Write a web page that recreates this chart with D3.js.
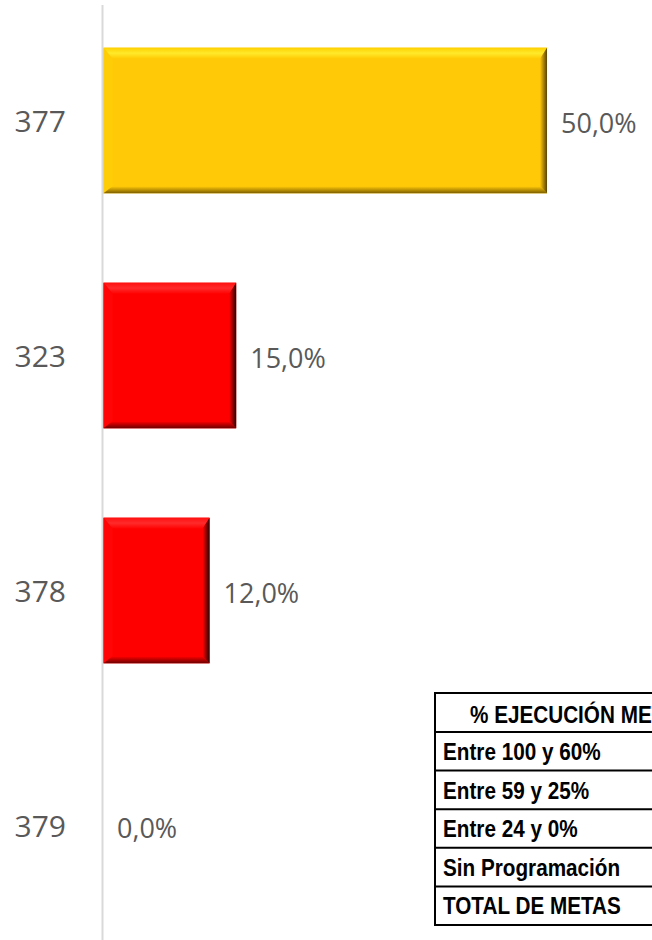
<!DOCTYPE html>
<html>
<head>
<meta charset="utf-8">
<script src="https://cdn.jsdelivr.net/npm/d3@7"></script>
<style>
  html, body { margin: 0; padding: 0; background: #fff; }
  svg { display: block; }
</style>
</head>
<body>
<svg id="chart" width="652" height="940"></svg>
<script>
// ---- data ----
const categories = ["377", "323", "378", "379"];
const values = [0.50, 0.15, 0.12, 0.0];
const tableHeader = "% EJECUCIÓN METAS";
const tableRows = ["Entre 100 y 60%", "Entre 59 y 25%", "Entre 24 y 0%", "Sin Programación", "TOTAL DE METAS"];
const thresholds = [0.25, 0.60];

// ---- setup ----
const W = 652, H = 940;
const svg = d3.select("#chart");
const defs = svg.append("defs");

const locale = d3.formatLocale({decimal: ",", thousands: ".", grouping: [3], currency: ["", "€"]});
const fmt = locale.format(".1%");

const x = d3.scaleLinear().domain([0, 0.5]).range([103, 547]);
const y = d3.scaleBand().domain(categories).range([3, 943]).paddingInner(0.38).paddingOuter(0.19);

const palette = d3.scaleThreshold().domain(thresholds).range(["red", "yellow", "green"]);
const styles = {
  yellow: {main: "#FFC907", top: ["#FFD000", "#FFEA2A", "#FFCB05"], left: "#FFCD08", right: ["#FFC907", "#5a4300"], bottom: ["#FFC907", "#7a5c00"]},
  red:    {main: "#FF0000", top: ["#FF1010", "#FF2A2A", "#FF0303"], left: "#FF0505", right: ["#FF0000", "#2a0000"], bottom: ["#FF0000", "#6a0000"]},
  green:  {main: "#00B050", top: ["#10C060", "#30D070", "#00B050"], left: "#05B555", right: ["#00B050", "#003015"], bottom: ["#00B050", "#005020"]}
};

function grad(id, stops, vertical) {
  const g = defs.append("linearGradient").attr("id", id)
    .attr("x1", 0).attr("y1", 0).attr("x2", vertical ? 0 : 1).attr("y2", vertical ? 1 : 0);
  stops.forEach((c, i) => g.append("stop").attr("offset", i / (stops.length - 1)).attr("stop-color", c));
}
Object.entries(styles).forEach(([k, s]) => {
  grad("top-" + k, s.top, true);
  grad("right-" + k, s.right, false);
  grad("bottom-" + k, s.bottom, true);
});

// ---- axis line ----
svg.append("line")
  .attr("x1", x(0) - 0.5).attr("x2", x(0) - 0.5)
  .attr("y1", 5).attr("y2", H)
  .attr("stroke", "#d9d9d9").attr("stroke-width", 2);

// ---- bars ----
const bars = svg.append("g").selectAll("g.bar")
  .data(categories.map((c, i) => ({cat: c, v: values[i]})).filter(d => d.v > 0))
  .join("g").attr("class", "bar");

bars.each(function(d) {
  const g = d3.select(this);
  const k = palette(d.v);
  const s = styles[k];
  const x0 = x(0) + 0.5, x1 = x(d.v), y0 = y(d.cat), y1 = y(d.cat) + y.bandwidth();
  const bt = 11, bl = 9, br = 7, bb = 7;
  g.append("rect").attr("x", x0).attr("y", y0).attr("width", x1 - x0).attr("height", y1 - y0).attr("fill", s.main);
  // top bevel
  g.append("polygon").attr("points", [[x0, y0], [x1, y0], [x1 - br, y0 + bt], [x0 + bl, y0 + bt]].join(" "))
    .attr("fill", `url(#top-${k})`);
  // left bevel
  g.append("polygon").attr("points", [[x0, y0], [x0 + bl, y0 + bt], [x0 + bl, y1 - bb], [x0, y1]].join(" "))
    .attr("fill", s.left);
  // bottom bevel
  g.append("polygon").attr("points", [[x0, y1], [x0 + bl, y1 - bb], [x1 - br, y1 - bb], [x1, y1]].join(" "))
    .attr("fill", `url(#bottom-${k})`);
  // right bevel
  g.append("polygon").attr("points", [[x1, y0], [x1, y1], [x1 - br, y1 - bb], [x1 - br, y0 + bt]].join(" "))
    .attr("fill", `url(#right-${k})`);
});

// ---- category labels ----
svg.append("g").selectAll("text")
  .data(categories)
  .join("text")
  .attr("x", 66)
  .attr("y", d => y(d) + y.bandwidth() / 2 + 11)
  .attr("text-anchor", "end")
  .attr("font-family", "'Open Sans', 'DejaVu Sans', sans-serif")
  .attr("font-size", 30)
  .attr("fill", "#595959")
  .text(d => d);

// ---- value labels ----
svg.append("g").selectAll("text")
  .data(categories.map((c, i) => ({cat: c, v: values[i]})))
  .join("text")
  .attr("x", d => x(d.v) + 14)
  .attr("y", d => y(d.cat) + y.bandwidth() / 2 + 12)
  .attr("font-family", "'Open Sans', 'DejaVu Sans', sans-serif")
  .attr("font-size", 27)
  .attr("fill", "#595959")
  .text(d => fmt(d.v));

// ---- table ----
const tx = 435, ty = 693, headH = 39, rowH = 38.6;
const tbl = svg.append("g");
const rowTops = [ty].concat(tableRows.map((r, i) => ty + headH + i * rowH));
const tBottom = ty + headH + tableRows.length * rowH;
tbl.selectAll("line.h")
  .data(rowTops.concat([tBottom]))
  .join("line").attr("class", "h")
  .attr("x1", tx).attr("x2", W + 5)
  .attr("y1", d => d).attr("y2", d => d)
  .attr("stroke", "#000").attr("stroke-width", 2);
tbl.append("line")
  .attr("x1", tx).attr("x2", tx).attr("y1", ty - 1).attr("y2", tBottom + 1)
  .attr("stroke", "#000").attr("stroke-width", 2);

const tFont = "'Liberation Sans', Arial, sans-serif";
tbl.append("text")
  .attr("transform", `translate(470, ${ty + 30}) scale(0.9, 1)`)
  .attr("font-family", tFont).attr("font-weight", "bold").attr("font-size", 23)
  .attr("fill", "#000")
  .text(tableHeader);
tbl.selectAll("text.row")
  .data(tableRows)
  .join("text").attr("class", "row")
  .attr("transform", (d, i) => `translate(443, ${ty + headH + i * rowH + 28}) scale(0.9, 1)`)
  .attr("font-family", tFont).attr("font-weight", "bold").attr("font-size", 23)
  .attr("fill", "#000")
  .text(d => d);
</script>
</body>
</html>
